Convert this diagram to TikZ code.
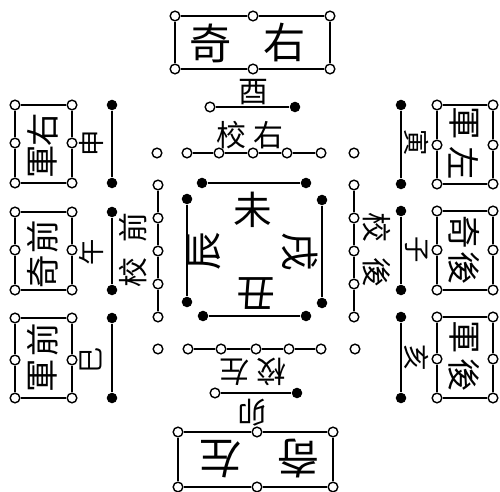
\documentclass[tikz,border=0pt]{standalone}
\usepackage{fontspec}
\newfontfamily\cjk{Noto Sans CJK TC}
\usetikzlibrary{positioning}
\newcommand{\chsize}[1]{\cjk\fontsize{#1}{#1}\selectfont}

\begin{document}
\begin{tikzpicture}[
  x=0.02cm, y=-0.02cm,
  odot/.style={circle, draw, fill=white, line width=0.8pt, inner sep=0pt, minimum size=5.5pt},
  fdot/.style={circle, fill=black, inner sep=0pt, minimum size=6pt},
  bar/.style={line width=1.1pt},
  big/.style={font=\chsize{24}, inner sep=0pt},
  inner/.style={font=\chsize{22}, inner sep=0pt},
  mid/.style={font=\chsize{19}, inner sep=0pt},
  tag/.style={font=\chsize{17}, inner sep=0pt},
  small/.style={font=\chsize{15}, inner sep=0pt},
]
\useasboundingbox (0,0) rectangle (500,492);

% ------------------------------------------------------------ top
\foreach \x/\n in {175/l,253/c,330/r} {
  \node[odot] (T\n1) at (\x,16) {};
  \node[odot] (T\n2) at (\x,69) {};
}
\draw[bar] (Tl1) -- (Tc1) -- (Tr1) -- (Tr2) -- (Tc2) -- (Tl2) -- (Tl1);
\node[big] (Tqi) at (211,43) {奇};
\node[big] (Tyou) at (285,43) {右};

\node[tag] (you) at (253,92) {酉};
\node[odot] (ya) at (210,107) {};
\node[fdot] (yb) at (295,107) {};
\draw[bar] (ya) -- (yb);
\node[tag] (xiaoR) at (250,135) {校\hspace{4pt}右};

% ------------------------------------------------------------ bottom
\foreach \x/\n in {178/l,257/c,333/r} {
  \node[odot] (B\n1) at (\x,432) {};
  \node[odot] (B\n2) at (\x,487) {};
}
\draw[bar] (Bl1) -- (Bc1) -- (Br1) -- (Br2) -- (Bc2) -- (Bl2) -- (Bl1);
\node[big, rotate=180] (Bzuo) at (220,459) {左};
\node[big, rotate=180] (Bqi) at (298,459) {奇};

\node[tag, rotate=180] (mao) at (253,413) {卯};
\node[odot] (ma) at (215,393) {};
\node[fdot] (mb) at (297,393) {};
\draw[bar] (ma) -- (mb);
\node[tag, rotate=180] (xiaoL) at (253,372) {校\hspace{4pt}左};

% ------------------------------------------------------------ rows of open circles
\foreach \x [count=\i] in {187,219,253,287,321} {
  \node[odot] (N\i) at (\x,153) {};
}
\foreach \x [count=\i] in {188,221,256,289,321} {
  \node[odot] (S\i) at (\x,349) {};
}
\foreach \y [count=\i] in {185,218,251,284,317} {
  \node[odot] (W\i) at (158,\y) {};
  \node[odot] (E\i) at (354,\y) {};
}
\draw[bar] (N1) -- (N2) -- (N3) -- (N4) -- (N5);
\draw[bar] (S1) -- (S2) -- (S3) -- (S4) -- (S5);
\draw[bar] (W1) -- (W2) -- (W3) -- (W4) -- (W5);
\draw[bar] (E1) -- (E2) -- (E3) -- (E4) -- (E5);
\node[odot] (cNW) at (157,153) {};
\node[odot] (cNE) at (354,153) {};
\node[odot] (cSW) at (158,349) {};
\node[odot] (cSE) at (355,349) {};

\node[tag, rotate=90] (xiaoQ) at (133,250) {校\hspace{9pt}前};
\node[tag, rotate=-90] (xiaoH) at (377,250) {校\hspace{9pt}後};

% ------------------------------------------------------------ inner square
\node[fdot] (qa) at (202,183) {};
\node[fdot] (qb) at (306,183) {};
\node[fdot] (qc) at (187,199) {};
\node[fdot] (qd) at (187,302) {};
\node[fdot] (qe) at (322,200) {};
\node[fdot] (qf) at (322,303) {};
\node[fdot] (qg) at (203,316) {};
\node[fdot] (qh) at (306,316) {};
\draw[bar] (qa) -- (qb);
\draw[bar] (qc) -- (qd);
\draw[bar] (qe) -- (qf);
\draw[bar] (qg) -- (qh);
\node[inner] (wei) at (253,210) {未};
\node[inner, rotate=90] (chen) at (204,251) {辰};
\node[inner, rotate=-90] (xu) at (300,252) {戌};
\node[inner, rotate=180] (chou) at (256,294) {丑};

% ------------------------------------------------------------ left boxes
\foreach \i/\ya/\yb/\yc/\ta/\tb/\ca/\cb/\lab/\ly in {
    1/105/143/183/130/162/右/軍/申/143,
    2/212/250/290/237/272/前/奇/午/252,
    3/318/360/398/340/376/前/軍/巳/360} {
  \node[odot] (L\i-1) at (15,\ya) {};
  \node[odot] (L\i-2) at (15,\yb) {};
  \node[odot] (L\i-3) at (15,\yc) {};
  \node[odot] (L\i-4) at (72,\ya) {};
  \node[odot] (L\i-5) at (72,\yb) {};
  \node[odot] (L\i-6) at (72,\yc) {};
  \draw[bar] (L\i-1) -- (L\i-2) -- (L\i-3) -- (L\i-6) -- (L\i-5) -- (L\i-4) -- (L\i-1);
  \node[mid, rotate=90] (L\i-t) at (43,\ta) {\ca};
  \node[mid, rotate=90] (L\i-b) at (43,\tb) {\cb};
  \node[small, rotate=90] (L\i-z) at (91,\ly) {\lab};
  \node[fdot] (L\i-p) at (112,\ya) {};
  \node[fdot] (L\i-q) at (112,\yc) {};
  \draw[bar] (L\i-p) -- (L\i-q);
}

% ------------------------------------------------------------ right boxes
\foreach \i/\ya/\yb/\yc/\ta/\tb/\ca/\cb/\lab/\ly in {
    1/105/145/184/123/163/軍/左/寅/143,
    2/211/250/290/232/268/奇/後/子/250,
    3/317/359/398/337/375/軍/後/亥/358} {
  \node[odot] (R\i-1) at (437,\ya) {};
  \node[odot] (R\i-2) at (437,\yb) {};
  \node[odot] (R\i-3) at (437,\yc) {};
  \node[odot] (R\i-4) at (493,\ya) {};
  \node[odot] (R\i-5) at (493,\yb) {};
  \node[odot] (R\i-6) at (493,\yc) {};
  \draw[bar] (R\i-1) -- (R\i-2) -- (R\i-3) -- (R\i-6) -- (R\i-5) -- (R\i-4) -- (R\i-1);
  \node[mid, rotate=-90] (R\i-t) at (464,\ta) {\ca};
  \node[mid, rotate=-90] (R\i-b) at (464,\tb) {\cb};
  \node[small, rotate=-90] (R\i-z) at (417,\ly) {\lab};
  \node[fdot] (R\i-p) at (401,\ya) {};
  \node[fdot] (R\i-q) at (401,\yc) {};
  \draw[bar] (R\i-p) -- (R\i-q);
}

\end{tikzpicture}
\end{document}
